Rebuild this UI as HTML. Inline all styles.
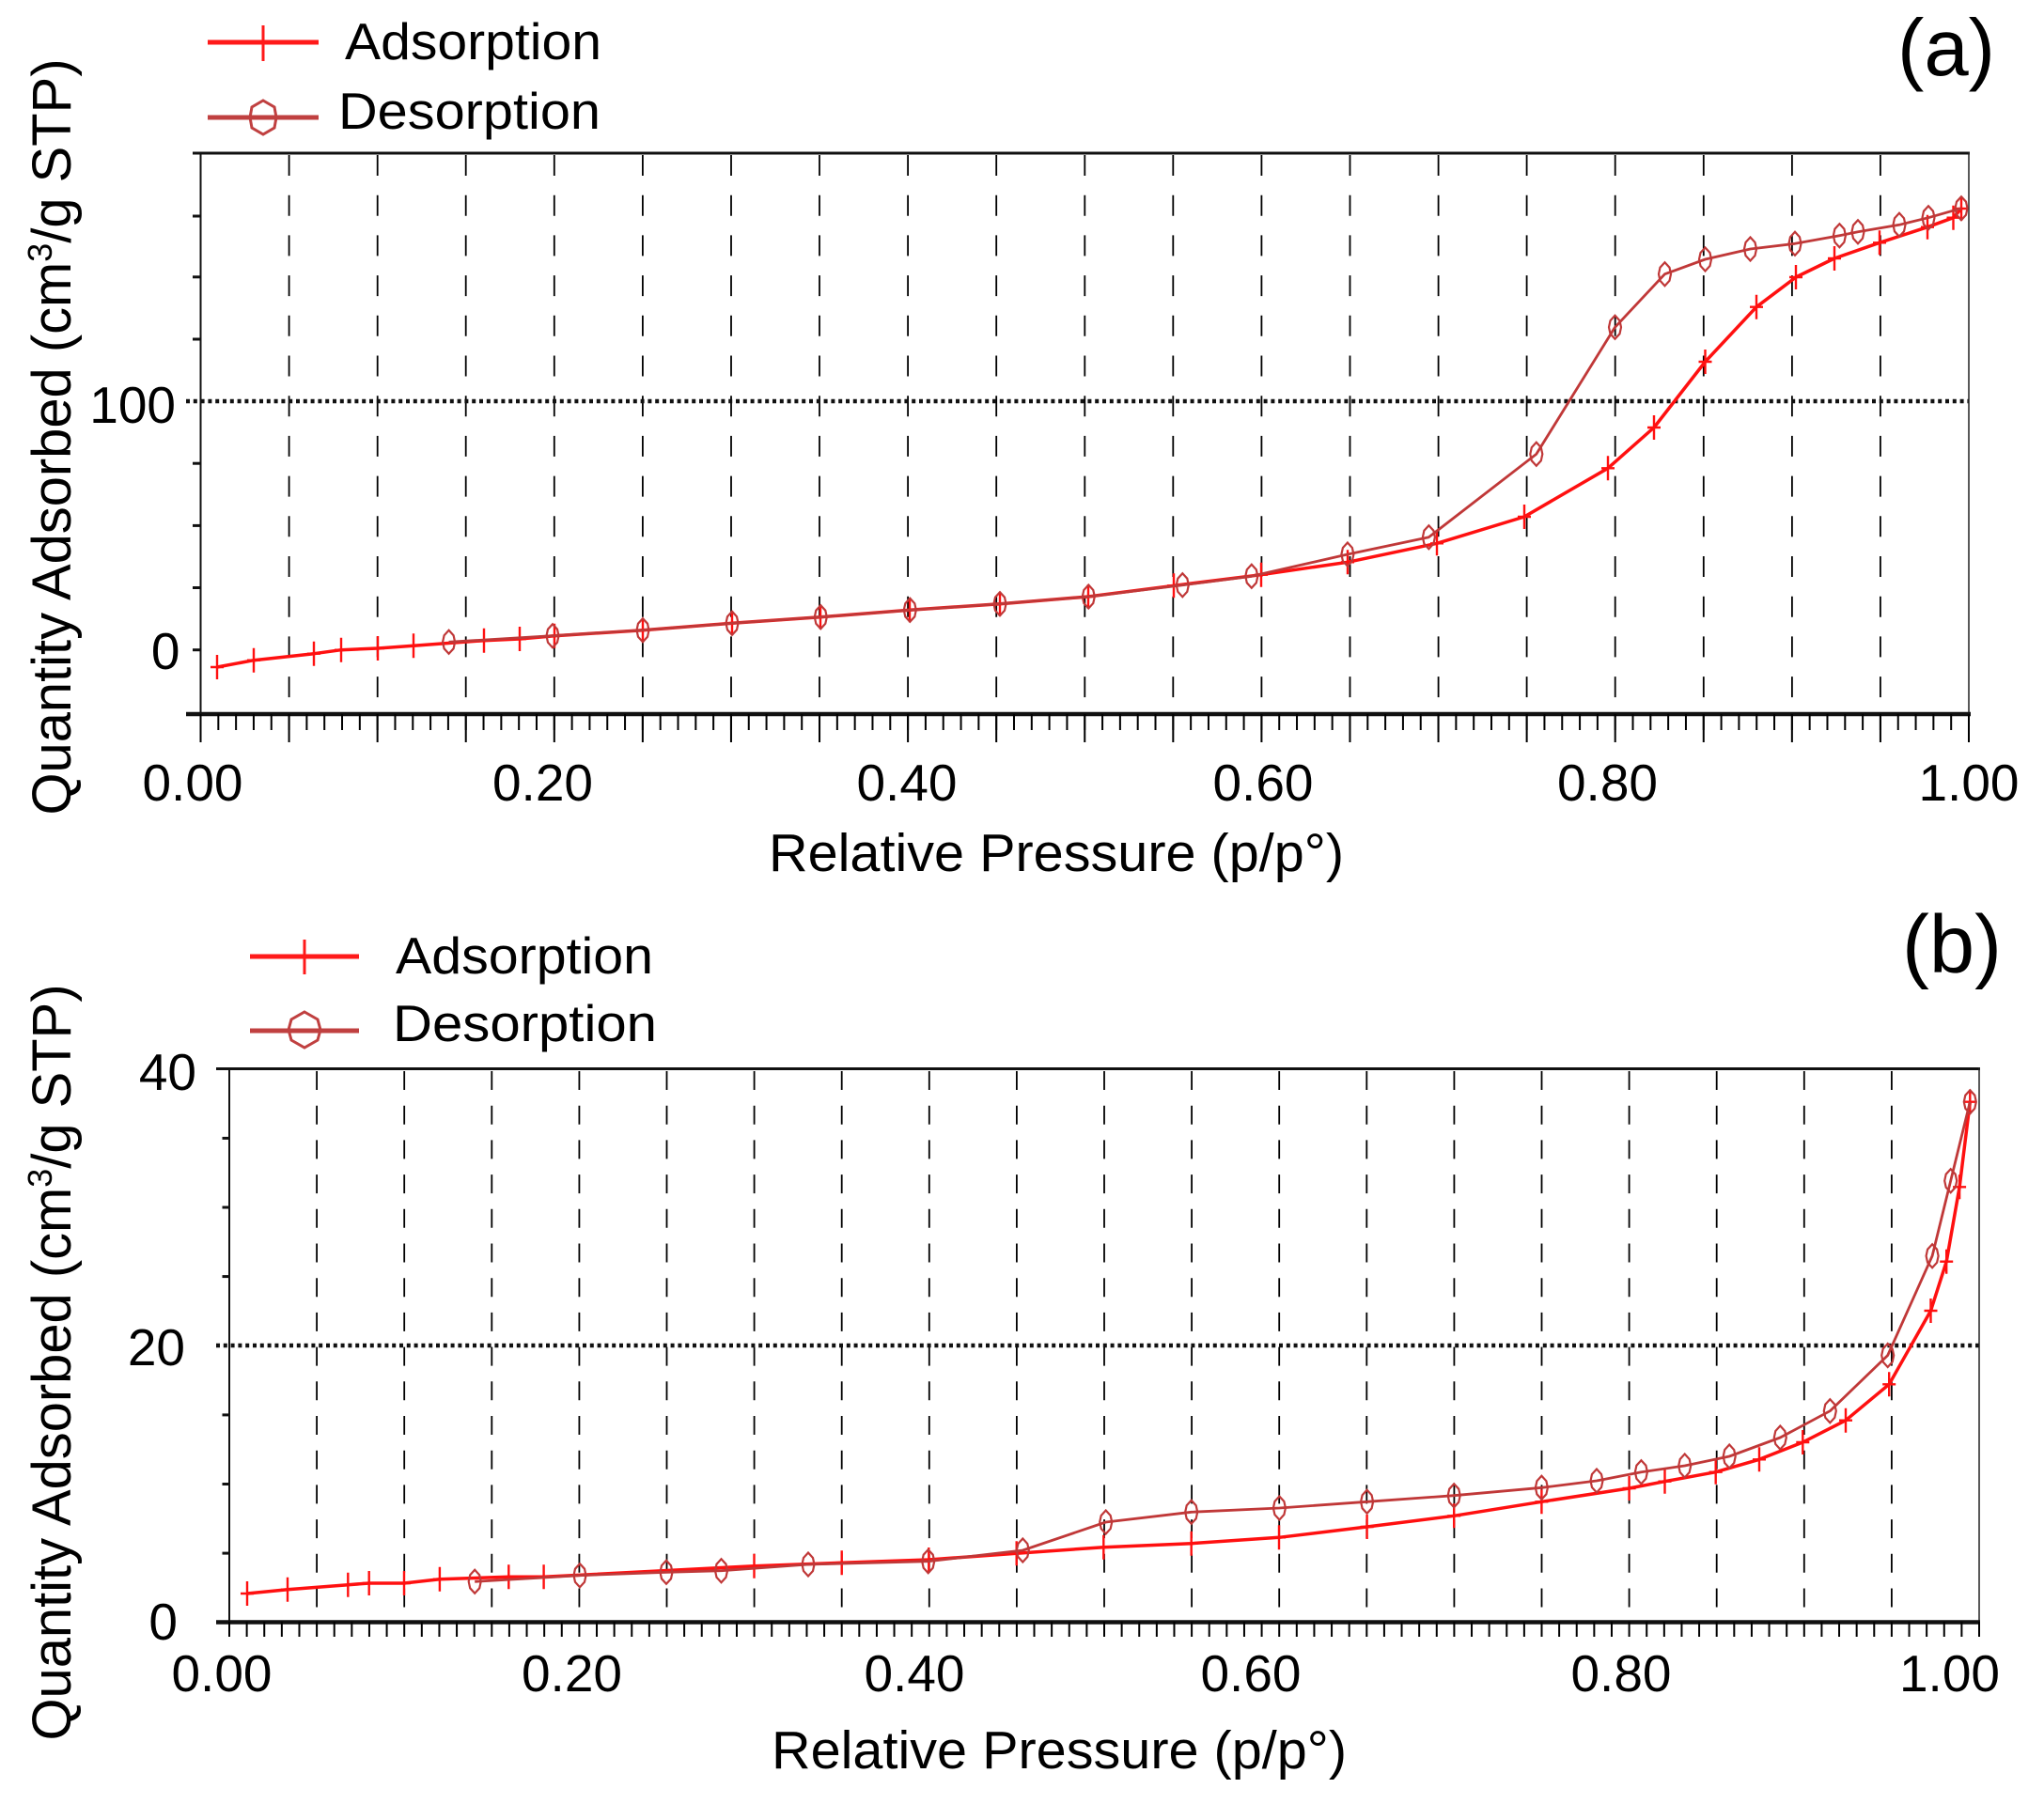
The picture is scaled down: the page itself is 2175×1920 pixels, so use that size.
<!DOCTYPE html>
<html>
<head>
<meta charset="utf-8">
<style>
html,body{margin:0;padding:0;background:#fff}
svg{display:block}
</style>
</head>
<body>
<svg width="2175" height="1920" viewBox="0 0 2175 1920" xmlns="http://www.w3.org/2000/svg" font-family="'Liberation Sans', Arial, sans-serif">
<defs>
  <marker id="mc" markerUnits="userSpaceOnUse" markerWidth="30" markerHeight="30" refX="15" refY="15" overflow="visible">
    <path d="M15,2 V28 M8,15 H22" stroke="#ff1010" stroke-width="2.4" fill="none"/>
  </marker>
  <marker id="md" markerUnits="userSpaceOnUse" markerWidth="30" markerHeight="30" refX="15" refY="15" overflow="visible">
    <path d="M15,2.5 L20,8 L21.5,15 L20,22 L15,27.5 L10,22 L8.5,15 L10,8 Z" stroke="#c03838" stroke-width="2.2" fill="none"/>
  </marker>
</defs>

<rect width="2175" height="1920" fill="#fff"/>

<!-- ================= PANEL (a) ================= -->
<line x1="221" y1="45" x2="339" y2="45" stroke="#ff1a1a" stroke-width="5"/>
<line x1="280" y1="27" x2="280" y2="65" stroke="#ff1a1a" stroke-width="3"/>
<text x="367" y="63" font-size="55" textLength="273" lengthAdjust="spacingAndGlyphs" fill="#000">Adsorption</text>
<line x1="221" y1="125" x2="339" y2="125" stroke="#c04040" stroke-width="5"/>
<path d="M280,107 L292,114 L294,125 L292,136 L280,143 L268,136 L266,125 L268,114 Z" fill="none" stroke="#c04040" stroke-width="3"/>
<text x="360" y="137" font-size="55" textLength="279" lengthAdjust="spacingAndGlyphs" fill="#000">Desorption</text>
<text x="2019" y="80" font-size="85" textLength="104" lengthAdjust="spacingAndGlyphs" fill="#000">(a)</text>

<g stroke="#000" stroke-width="1.8" stroke-dasharray="22 20.7">
  <line x1="307.6" y1="165" x2="307.6" y2="760"/>
  <line x1="401.7" y1="165" x2="401.7" y2="760"/>
  <line x1="495.7" y1="165" x2="495.7" y2="760"/>
  <line x1="589.8" y1="165" x2="589.8" y2="760"/>
  <line x1="683.9" y1="165" x2="683.9" y2="760"/>
  <line x1="778" y1="165" x2="778" y2="760"/>
  <line x1="872" y1="165" x2="872" y2="760"/>
  <line x1="966.1" y1="165" x2="966.1" y2="760"/>
  <line x1="1060.2" y1="165" x2="1060.2" y2="760"/>
  <line x1="1154.3" y1="165" x2="1154.3" y2="760"/>
  <line x1="1248.3" y1="165" x2="1248.3" y2="760"/>
  <line x1="1342.4" y1="165" x2="1342.4" y2="760"/>
  <line x1="1436.5" y1="165" x2="1436.5" y2="760"/>
  <line x1="1530.6" y1="165" x2="1530.6" y2="760"/>
  <line x1="1624.6" y1="165" x2="1624.6" y2="760"/>
  <line x1="1718.7" y1="165" x2="1718.7" y2="760"/>
  <line x1="1812.8" y1="165" x2="1812.8" y2="760"/>
  <line x1="1906.9" y1="165" x2="1906.9" y2="760"/>
  <line x1="2000.9" y1="165" x2="2000.9" y2="760"/>
</g>
<line x1="198" y1="427" x2="2095" y2="427" stroke="#111" stroke-width="4.5" stroke-dasharray="4 3.8"/>

<line x1="205" y1="163" x2="2096" y2="163" stroke="#111" stroke-width="3"/>
<line x1="213.5" y1="162" x2="213.5" y2="790" stroke="#111" stroke-width="2"/>
<line x1="2095" y1="162" x2="2095" y2="790" stroke="#222" stroke-width="1.5"/>
<line x1="198" y1="760" x2="2097" y2="760" stroke="#111" stroke-width="4.5"/>
<line x1="212.5" y1="768.5" x2="2097" y2="768.5" stroke="#000" stroke-width="17" stroke-dasharray="2 16.815"/>
<line x1="212.5" y1="775" x2="2097" y2="775" stroke="#000" stroke-width="30" stroke-dasharray="2 92.075"/>
<g stroke="#111" stroke-width="3">
  <line x1="205" y1="230" x2="213.5" y2="230"/>
  <line x1="205" y1="294.8" x2="213.5" y2="294.8"/>
  <line x1="205" y1="361" x2="213.5" y2="361"/>
  <line x1="205" y1="493.2" x2="213.5" y2="493.2"/>
  <line x1="205" y1="559.4" x2="213.5" y2="559.4"/>
  <line x1="205" y1="625.5" x2="213.5" y2="625.5"/>
  <line x1="205" y1="691.7" x2="213.5" y2="691.7"/>
</g>
<text x="187" y="450" font-size="55" text-anchor="end" fill="#000">100</text>
<text x="191.5" y="712" font-size="55" text-anchor="end" fill="#000">0</text>
<g font-size="55" text-anchor="middle" fill="#000">
  <text x="205" y="852">0.00</text>
  <text x="577.5" y="852">0.20</text>
  <text x="965" y="852">0.40</text>
  <text x="1344" y="852">0.60</text>
  <text x="1710.5" y="852">0.80</text>
  <text x="2095" y="852">1.00</text>
</g>
<text x="818" y="927" font-size="57" textLength="612" lengthAdjust="spacingAndGlyphs" fill="#000">Relative Pressure (p/p°)</text>
<text transform="translate(75,465) rotate(-90)" font-size="58" text-anchor="middle" textLength="805" lengthAdjust="spacingAndGlyphs" fill="#000">Quantity Adsorbed (cm<tspan font-size="36" baseline-shift="55%">3</tspan>/g STP)</text>

<polyline fill="none" stroke="#ff1010" stroke-width="3.5" stroke-linejoin="round" marker-start="url(#mc)" marker-mid="url(#mc)" marker-end="url(#mc)"
  points="231,710 270,702.7 334,695.7 363,691.7 402,690 440,687.3 515,681.7 553,680 590,676.7 684,670.7 779,663.3 873,656.7 968,649.3 1064,642.7 1158,635 1249,623.3 1342,611.7 1434,598.3 1529,578.3 1622,550 1711,498.3 1760,455 1814.5,385 1869,326.7 1911,295 1952,275 2000,258.3 2051,241.7 2078.5,231.7 2087,222"/>
<polyline fill="none" stroke="#c03838" stroke-width="2.8" stroke-linejoin="round" marker-start="url(#md)" marker-mid="url(#md)" marker-end="url(#md)"
  points="2087,221.7 2052,231.7 2021,239.3 1977,246.7 1957.4,250.7 1910,259.3 1862.5,265 1814.5,276 1771.5,291.7 1718.5,348.3 1634.8,483.3 1520.4,571.7 1433.9,590 1331.8,613.3 1258.3,622.7 1158.3,635 1064,642.7 968.3,649.3 873.3,656.7 779,663.3 684,670.7 588,676.7 477.6,683.3"/>

<!-- ================= PANEL (b) ================= -->
<line x1="266" y1="1018" x2="382" y2="1018" stroke="#ff1a1a" stroke-width="5"/>
<line x1="324" y1="1000" x2="324" y2="1037" stroke="#ff1a1a" stroke-width="3"/>
<text x="421" y="1036" font-size="55" textLength="274" lengthAdjust="spacingAndGlyphs" fill="#000">Adsorption</text>
<line x1="266" y1="1097" x2="382" y2="1097" stroke="#c04040" stroke-width="5"/>
<path d="M324,1077 L338,1085 L341,1096 L338,1107 L324,1115 L310,1107 L307,1096 L310,1085 Z" fill="none" stroke="#c04040" stroke-width="3"/>
<text x="418" y="1108" font-size="55" textLength="281" lengthAdjust="spacingAndGlyphs" fill="#000">Desorption</text>
<text x="2024" y="1035" font-size="87" textLength="106" lengthAdjust="spacingAndGlyphs" fill="#000">(b)</text>

<g stroke="#000" stroke-width="1.8" stroke-dasharray="20 16.7">
  <line x1="337.1" y1="1140" x2="337.1" y2="1726"/>
  <line x1="430.2" y1="1140" x2="430.2" y2="1726"/>
  <line x1="523.3" y1="1140" x2="523.3" y2="1726"/>
  <line x1="616.4" y1="1140" x2="616.4" y2="1726"/>
  <line x1="709.5" y1="1140" x2="709.5" y2="1726"/>
  <line x1="802.6" y1="1140" x2="802.6" y2="1726"/>
  <line x1="895.7" y1="1140" x2="895.7" y2="1726"/>
  <line x1="988.8" y1="1140" x2="988.8" y2="1726"/>
  <line x1="1081.9" y1="1140" x2="1081.9" y2="1726"/>
  <line x1="1175" y1="1140" x2="1175" y2="1726"/>
  <line x1="1268.1" y1="1140" x2="1268.1" y2="1726"/>
  <line x1="1361.2" y1="1140" x2="1361.2" y2="1726"/>
  <line x1="1454.3" y1="1140" x2="1454.3" y2="1726"/>
  <line x1="1547.4" y1="1140" x2="1547.4" y2="1726"/>
  <line x1="1640.5" y1="1140" x2="1640.5" y2="1726"/>
  <line x1="1733.6" y1="1140" x2="1733.6" y2="1726"/>
  <line x1="1826.7" y1="1140" x2="1826.7" y2="1726"/>
  <line x1="1919.8" y1="1140" x2="1919.8" y2="1726"/>
  <line x1="2012.9" y1="1140" x2="2012.9" y2="1726"/>
</g>
<line x1="230" y1="1432" x2="2106" y2="1432" stroke="#111" stroke-width="4.5" stroke-dasharray="4 3.8"/>

<line x1="230" y1="1137.5" x2="2107" y2="1137.5" stroke="#111" stroke-width="3"/>
<line x1="244" y1="1136" x2="244" y2="1742" stroke="#111" stroke-width="2"/>
<line x1="2106" y1="1136" x2="2106" y2="1742" stroke="#222" stroke-width="1.5"/>
<line x1="230" y1="1726.5" x2="2107" y2="1726.5" stroke="#111" stroke-width="4.5"/>
<line x1="243" y1="1734" x2="2108" y2="1734" stroke="#000" stroke-width="16" stroke-dasharray="2 16.62"/>
<g stroke="#111" stroke-width="3">
  <line x1="236.5" y1="1211.4" x2="244" y2="1211.4"/>
  <line x1="236.5" y1="1285" x2="244" y2="1285"/>
  <line x1="236.5" y1="1358.6" x2="244" y2="1358.6"/>
  <line x1="236.5" y1="1505.9" x2="244" y2="1505.9"/>
  <line x1="236.5" y1="1579.5" x2="244" y2="1579.5"/>
  <line x1="236.5" y1="1653.1" x2="244" y2="1653.1"/>
</g>
<text x="209" y="1160" font-size="55" text-anchor="end" fill="#000">40</text>
<text x="197" y="1453" font-size="55" text-anchor="end" fill="#000">20</text>
<text x="189" y="1745" font-size="55" text-anchor="end" fill="#000">0</text>
<g font-size="55" text-anchor="middle" fill="#000">
  <text x="236" y="1800">0.00</text>
  <text x="608.5" y="1800">0.20</text>
  <text x="973" y="1800">0.40</text>
  <text x="1331" y="1800">0.60</text>
  <text x="1725" y="1800">0.80</text>
  <text x="2074.5" y="1800">1.00</text>
</g>
<text x="821" y="1882" font-size="57" textLength="612" lengthAdjust="spacingAndGlyphs" fill="#000">Relative Pressure (p/p°)</text>
<text transform="translate(75,1450) rotate(-90)" font-size="58" text-anchor="middle" textLength="805" lengthAdjust="spacingAndGlyphs" fill="#000">Quantity Adsorbed (cm<tspan font-size="36" baseline-shift="55%">3</tspan>/g STP)</text>

<polyline fill="none" stroke="#ff1010" stroke-width="3.5" stroke-linejoin="round" marker-start="url(#mc)" marker-mid="url(#mc)" marker-end="url(#mc)"
  points="263,1696 306,1691.7 370.3,1686.7 392.7,1685 430,1685 467.9,1680.7 541.3,1678.3 578.6,1678.3 802.5,1666.7 895.7,1663.3 988.3,1660 1081.7,1653.3 1174.3,1646.7 1267.7,1642.7 1361,1636.3 1454.6,1625 1547.2,1613.3 1640.4,1598.3 1733.6,1584 1771.5,1576.7 1825.7,1566.7 1872,1553.3 1918.3,1535 1964,1511.7 2010.2,1473.3 2054.5,1395 2071.2,1342.7 2085.1,1263.3 2096.3,1172.7"/>
<polyline fill="none" stroke="#c03838" stroke-width="2.8" stroke-linejoin="round" marker-start="url(#md)" marker-mid="url(#md)" marker-end="url(#md)"
  points="2096.3,1172.7 2075.7,1256.7 2056.1,1336.7 2008.7,1442.5 1947.3,1501.7 1894.3,1530 1840.2,1550 1792.7,1560 1746.4,1566.7 1699,1576 1640.4,1583.3 1547.2,1591.7 1454.6,1598.3 1361.4,1605 1267.7,1609.3 1176.7,1620 1088.3,1650 987.7,1661.7 860,1665 767.5,1671.7 709,1673.3 617,1676.7 505.2,1683.3"/>
</svg>
</body>
</html>
